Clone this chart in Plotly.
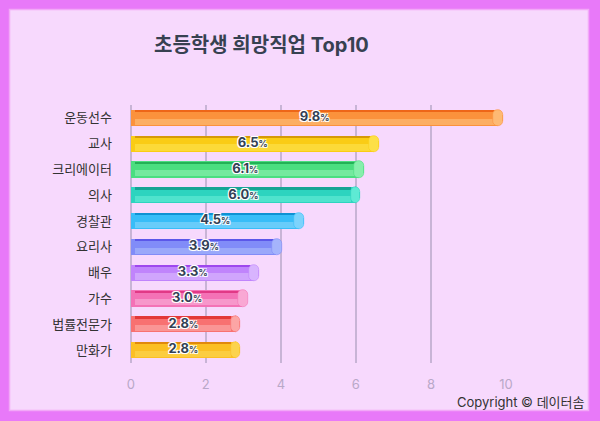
import plotly.graph_objects as go

categories = ["운동선수", "교사", "크리에이터", "의사", "경찰관", "요리사", "배우", "가수", "법률전문가", "만화가"]
values = [9.8, 6.5, 6.1, 6.0, 4.5, 3.9, 3.3, 3.0, 2.8, 2.8]
main_colors = ["#FB923C", "#FACC15", "#4ADE80", "#2DD4BF", "#38BDF8", "#818CF8", "#C084FC", "#F472B6", "#F87171", "#FBBF24"]
dark_colors = ["#EA580C", "#CA8A04", "#16A34A", "#0D9488", "#0284C7", "#4F46E5", "#9333EA", "#DB2777", "#DC2626", "#D97706"]
light_colors = ["#FDBA74", "#FDE047", "#86EFAC", "#5EEAD4", "#7DD3FC", "#A5B4FC", "#D8B4FE", "#F9A8D4", "#FCA5A5", "#FCD34D"]
tick_vals = [0, 2, 4, 6, 8, 10]
title_text = "초등학생 희망직업 Top10"
credit_text = "Copyright © 데이터솜"

W, H = 600, 421
L, R, T, B = 127, 94, 105, 58
x_min, x_max = -0.1, 10.0
pw = W - L - R
ph = H - T - B

def px_to_paper_x(p):
    return (p - L) / pw

def px_to_paper_y(p):
    return 1 - (p - T) / ph

font = "Inter, Noto Sans CJK KR, sans-serif"
bw = 0.635
inset = 0.12

fig = go.Figure()

# base cylinder body
fig.add_trace(go.Bar(
    y=categories, x=values, orientation="h", width=bw,
    marker=dict(color=main_colors, line=dict(width=0), cornerradius=8),
    hoverinfo="skip", showlegend=False,
))
# lower lighter half
fig.add_trace(go.Bar(
    y=categories, x=[v - 2 * inset for v in values], base=[inset] * len(values),
    orientation="h", width=0.24, offset=0.03,
    marker=dict(color=light_colors, line=dict(width=0)),
    opacity=0.7, hoverinfo="skip", showlegend=False,
))
# dark top edge
fig.add_trace(go.Bar(
    y=categories, x=[v - 2 * inset for v in values], base=[inset] * len(values),
    orientation="h", width=0.09, offset=-bw / 2 + 0.01,
    marker=dict(color=dark_colors, line=dict(width=0)),
    opacity=0.75, hoverinfo="skip", showlegend=False,
))
# end cap
fig.add_trace(go.Bar(
    y=categories, x=[0.26] * len(values), base=[v - 0.14 for v in values], orientation="h", width=bw,
    marker=dict(color=light_colors, line=dict(width=0.6, color=main_colors), cornerradius=5),
    hoverinfo="skip", showlegend=False,
))

labels = [f"{v:.1f}<span style='font-size:9px'>%</span>" for v in values]
fig.add_trace(go.Scatter(
    y=categories, x=[v / 2 for v in values], mode="text", text=labels,
    textposition="middle center",
    textfont=dict(family=font, size=13, color="#334155", weight="bold",
                  shadow="-1px -1px 0 #fff, 1px -1px 0 #fff, -1px 1px 0 #fff, 1px 1px 0 #fff, 0 0 2px #fff"),
    hoverinfo="skip", showlegend=False,
))

fig.update_layout(
    width=W, height=H,
    margin=dict(l=L, r=R, t=T, b=B),
    paper_bgcolor="#E879F9",
    plot_bgcolor="rgba(0,0,0,0)",
    barmode="overlay",
    bargap=0,
    font=dict(family=font),
    xaxis=dict(range=[x_min, x_max], tickvals=tick_vals, showgrid=True, gridcolor="#C8B4D6", gridwidth=1.5,
               zeroline=False, showline=False, ticks="", ticklabelstandoff=12,
               tickfont=dict(size=13, color="#B9A8C8", family=font), fixedrange=True),
    yaxis=dict(autorange="reversed", showgrid=False, zeroline=False, showline=False, ticks="",
               ticklabelstandoff=14, tickfont=dict(size=13, color="#333333", family=font), fixedrange=True),
    shapes=[
        dict(type="rect", xref="paper", yref="paper", layer="below",
             x0=px_to_paper_x(9.5), x1=px_to_paper_x(588.5), y0=px_to_paper_y(410.5), y1=px_to_paper_y(9.5),
             fillcolor="#F7D9FD", line=dict(color="#F2A9F8", width=1.5)),
    ],
    annotations=[
        dict(text=title_text, xref="paper", yref="paper", x=px_to_paper_x(261), y=px_to_paper_y(45),
             xanchor="center", yanchor="middle", showarrow=False,
             font=dict(size=20, color="#374151", family=font, weight="bold")),
        dict(text=credit_text, xref="paper", yref="paper", x=px_to_paper_x(587), y=px_to_paper_y(402),
             xanchor="right", yanchor="middle", showarrow=False,
             font=dict(size=13, color="#333333", family=font)),
    ],
)

fig.write_html(
    "out.html",
    config={"displayModeBar": False},
    post_script="document.body.style.margin='0';document.body.style.overflow='hidden';",
)
